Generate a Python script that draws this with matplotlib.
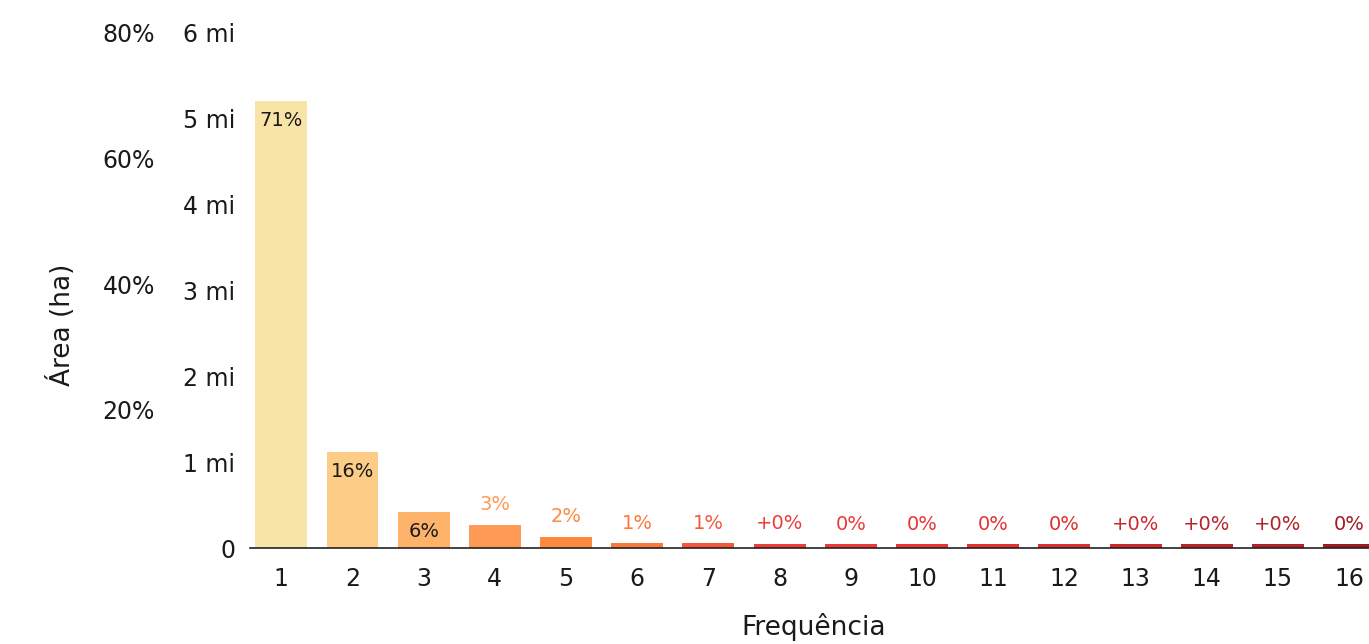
import matplotlib.pyplot as plt
from matplotlib.ticker import FuncFormatter

plt.rcParams['font.family'] = ['DejaVu Sans']

# frequency classes and area (ha) per class
freq = list(range(1, 17))
area_ha = [5.21e6, 1.12e6, 0.42e6, 0.27e6, 0.13e6, 0.058e6, 0.058e6, 0.047e6,
           0.042e6, 0.042e6, 0.042e6, 0.042e6, 0.042e6, 0.042e6, 0.042e6, 0.042e6]
pct_labels = ['71%', '16%', '6%', '3%', '2%', '1%', '1%', '+0%',
              '0%', '0%', '0%', '0%', '+0%', '+0%', '+0%', '0%']
colors = ['#f9e4a8', '#fdcc86', '#fdb36a', '#fd9a55', '#fd8a3e', '#fb7a3b',
          '#f5573c', '#ee3d38', '#ec3a36', '#e83534', '#e33232', '#dc2f31',
          '#cc292d', '#b9232a', '#b02229', '#9e1a22']
inside = [True, True, True] + [False] * 13

fig = plt.figure(figsize=(13.69, 6.44), dpi=100)
ax = fig.add_axes([250 / 1369, 96 / 644, 1 - 250 / 1369, 515 / 644])

ax.bar(freq, area_ha, width=0.73, color=colors, zorder=2)
ax.set_xlim(0.56, 16.28)
ax.set_ylim(0, 6e6)

for x, h, lab, c, ins in zip(freq, area_ha, pct_labels, colors, inside):
    if ins:
        ax.annotate(lab, (x, h), xytext=(0, -20), textcoords='offset pixels',
                    ha='center', va='center', fontsize=14, color='#1a1a1a')
    else:
        ax.annotate(lab, (x, h), xytext=(0, 20), textcoords='offset pixels',
                    ha='center', va='center', fontsize=14, color=c,
                    annotation_clip=False)

for s in ['top', 'right', 'left']:
    ax.spines[s].set_visible(False)
ax.spines['bottom'].set_color('#222222')
ax.spines['bottom'].set_linewidth(1.2)
ax.spines['bottom'].set_zorder(3)

ax.set_xticks(freq)
ax.set_yticks([0, 1e6, 2e6, 3e6, 4e6, 5e6, 6e6])
ax.yaxis.set_major_formatter(FuncFormatter(
    lambda v, p: '0' if v == 0 else f'{v / 1e6:.0f} mi'))
ax.tick_params(axis='both', length=0, labelsize=17, colors='#1a1a1a')
ax.tick_params(axis='y', pad=10.8)
ax.tick_params(axis='x', pad=14)

# percent scale on the far left
ax2 = fig.add_axes(ax.get_position(), frameon=False)
ax2.set_ylim(-2.07, 80)
ax2.set_xticks([])
ax2.set_yticks([20, 40, 60, 80])
ax2.yaxis.set_major_formatter(FuncFormatter(lambda v, p: f'{v:.0f}%'))
ax2.tick_params(axis='y', length=0, labelsize=17, pad=68.4, colors='#1a1a1a')
ax2.patch.set_visible(False)

fig.text(62 / 1369, 1 - 325 / 644, 'Área (ha)', rotation=90, fontsize=19,
         ha='center', va='center', color='#1a1a1a')
fig.text(814 / 1369, 1 - 627 / 644, 'Frequência', fontsize=19,
         ha='center', va='center', color='#1a1a1a')

fig.savefig('out.png', dpi=100)
